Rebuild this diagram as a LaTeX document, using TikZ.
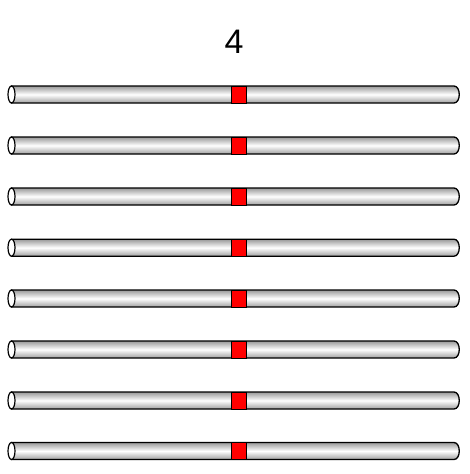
\documentclass[tikz,border=0pt]{standalone}
\usepackage{fontspec}
\setmainfont{Liberation Sans}
\begin{document}
\begin{tikzpicture}[x=1pt,y=-1pt,
  tubebody/.style={draw=black,line width=1.3pt,top color=gray!80,bottom color=gray!75,middle color=white},
  tubeend/.style={draw=black,line width=1.2pt,fill=white},
  marker/.style={draw=black,line width=0.6pt,fill=red}]
\useasboundingbox (0,0) rectangle (469,474);
\node[font=\fontsize{34}{40}\selectfont] (title) at (234,42) {4};
\foreach \c in {94.5,145.5,196.5,247.7,298.5,349.5,400.5,451} {
  \path[tubebody] (11.5,\c-8.5) -- (454,\c-8.5)
     .. controls (461,\c-8.5) and (461,\c+8.5) .. (454,\c+8.5) -- (11.5,\c+8.5) -- cycle;
  \path[tubeend] (11.5,\c) ellipse[x radius=3.5,y radius=8.5];
  \path[marker] (231,\c-8.5) rectangle (246,\c+8.5);
}
\end{tikzpicture}
\end{document}
